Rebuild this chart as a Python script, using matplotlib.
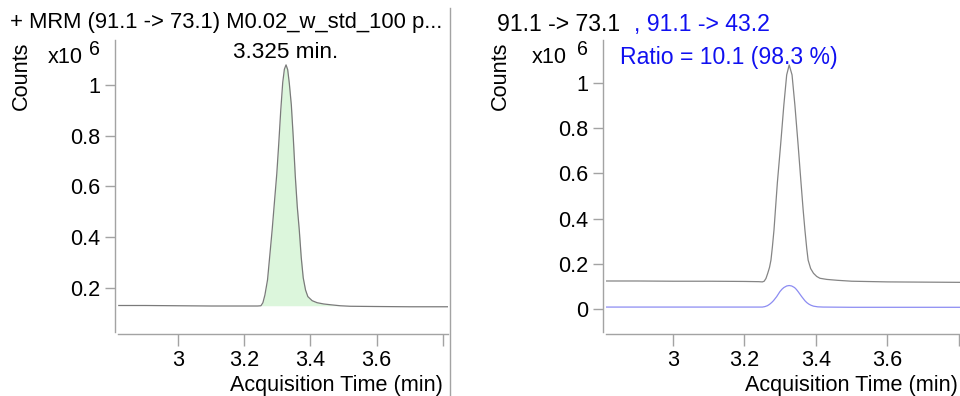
import matplotlib
matplotlib.use("Agg")
import matplotlib.pyplot as plt
from matplotlib.lines import Line2D

plt.rcParams['font.family'] = ['Liberation Sans', 'DejaVu Sans']

# ---------------- data, counts in x10^6 ----------------
left_time = [2.82, 2.90, 3.00, 3.10, 3.20, 3.24, 3.250, 3.256, 3.262, 3.270, 3.277,
             3.284, 3.291, 3.298, 3.304, 3.310, 3.316, 3.321, 3.326, 3.331, 3.336,
             3.342, 3.348, 3.354, 3.360, 3.366, 3.372, 3.378, 3.385, 3.392, 3.405,
             3.420, 3.440, 3.460, 3.490, 3.520, 3.600, 3.700, 3.820]
left_counts = [0.131, 0.131, 0.130, 0.129, 0.129, 0.129, 0.130, 0.142, 0.172, 0.232, 0.330,
               0.429, 0.540, 0.650, 0.770, 0.900, 1.010, 1.062, 1.079, 1.060, 1.005,
               0.921, 0.790, 0.640, 0.520, 0.429, 0.320, 0.240, 0.192, 0.166, 0.150,
               0.142, 0.137, 0.134, 0.130, 0.128, 0.127, 0.126, 0.126]
left_fill_start = 3.250
left_fill_end = 3.490

q_time = [2.81, 2.90, 3.00, 3.10, 3.20, 3.24, 3.250, 3.255, 3.260, 3.265, 3.270, 3.274,
          3.278, 3.2825, 3.287, 3.292, 3.301, 3.310, 3.318, 3.325, 3.333, 3.341, 3.350,
          3.358, 3.364, 3.369, 3.374, 3.378, 3.385, 3.393, 3.402, 3.411, 3.430, 3.460,
          3.500, 3.600, 3.700, 3.805]
q_counts = [0.125, 0.125, 0.124, 0.124, 0.123, 0.122, 0.121, 0.124, 0.136, 0.159, 0.185, 0.217,
            0.275, 0.350, 0.450, 0.560, 0.725, 0.900, 1.034, 1.078, 1.034, 0.900, 0.725,
            0.560, 0.440, 0.350, 0.270, 0.217, 0.180, 0.159, 0.145, 0.137, 0.132, 0.128,
            0.124, 0.121, 0.120, 0.119]

qual_time = [2.81, 3.00, 3.20, 3.250, 3.257, 3.264, 3.270, 3.276, 3.281, 3.290, 3.299,
             3.305, 3.310, 3.318, 3.325, 3.332, 3.340, 3.345, 3.350, 3.360, 3.369,
             3.374, 3.380, 3.386, 3.393, 3.405, 3.420, 3.500, 3.650, 3.805]
qual_counts = [0.010, 0.010, 0.010, 0.010, 0.012, 0.016, 0.022, 0.030, 0.038, 0.056, 0.078,
               0.089, 0.096, 0.103, 0.105, 0.103, 0.096, 0.088, 0.078, 0.056, 0.038,
               0.030, 0.023, 0.018, 0.014, 0.011, 0.010, 0.009, 0.009, 0.009]

x_ticks = [3.0, 3.2, 3.4, 3.6, 3.8]
x_ticklabels = ['3', '3.2', '3.4', '3.6', '']
left_yticks = [0.2, 0.4, 0.6, 0.8, 1.0]
left_yticklabels = ['0.2', '0.4', '0.6', '0.8', '1']
right_yticks = [0.0, 0.2, 0.4, 0.6, 0.8, 1.0]
right_yticklabels = ['0', '0.2', '0.4', '0.6', '0.8', '1']

left_title = '+ MRM (91.1 -> 73.1) M0.02_w_std_100 p...'
right_title_a = '91.1 -> 73.1'
right_title_b = ', 91.1 -> 43.2'
peak_label = '3.325 min.'
peak_rt = 3.325
ratio_label = 'Ratio = 10.1 (98.3 %)'

# ---------------- layout ----------------
W, H = 960, 396
fig = plt.figure(figsize=(W / 100, H / 100), dpi=100)


def rect(x0, x1, ytop, ybot):
    return [x0 / W, 1 - ybot / H, (x1 - x0) / W, (ybot - ytop) / H]


def fx(px):
    return px / W


def fy(py):
    return 1 - py / H


GREY = '#a3a3a3'
FS = 15.6
ax1 = fig.add_axes(rect(118, 448, 40, 332))
ax2 = fig.add_axes(rect(606, 960, 40, 332))

for ax in (ax1, ax2):
    for s in ('top', 'right'):
        ax.spines[s].set_visible(False)
    ax.spines['left'].set_position(('outward', 2.2))
    ax.spines['bottom'].set_position(('outward', 1.5))
    for s in ('left', 'bottom'):
        ax.spines[s].set_color(GREY)
        ax.spines[s].set_linewidth(1.0)
    ax.tick_params(axis='both', direction='out', color=GREY, width=1.0,
                   labelsize=FS, labelcolor='black')
    ax.tick_params(axis='y', length=7, pad=3.5)
    ax.tick_params(axis='x', length=8.5, pad=3.0)
    ax.set_xticks(x_ticks)
    ax.set_xticklabels(x_ticklabels)
    ax.patch.set_alpha(0)

# left panel
ax1.set_xlim(2.8176, 3.816)
ax1.set_ylim(0.0266, 1.177)
ax1.set_yticks(left_yticks)
ax1.set_yticklabels(left_yticklabels)
base_y0 = left_counts[left_time.index(left_fill_start)]
base_y1 = left_counts[left_time.index(left_fill_end)]
fill_t = [t for t in left_time if left_fill_start <= t <= left_fill_end]
fill_c = [c for t, c in zip(left_time, left_counts) if left_fill_start <= t <= left_fill_end]
fill_b = [base_y0 + (base_y1 - base_y0) * (t - left_fill_start) / (left_fill_end - left_fill_start)
          for t in fill_t]
ax1.fill_between(fill_t, fill_b, fill_c, color='#dcf6dc', lw=0)
ax1.plot(left_time, left_counts, color='#7a7a7a', lw=0.9)
ax1.text(peak_rt, 1.106, peak_label, ha='center', va='baseline', fontsize=FS + 0.6)

# right panel
ax2.set_xlim(2.8126, 3.8028)
ax2.set_ylim(-0.100, 1.188)
ax2.set_yticks(right_yticks)
ax2.set_yticklabels(right_yticklabels)
ax2.plot(q_time, q_counts, color='#858585', lw=0.9)
ax2.plot(qual_time, qual_counts, color='#8c8cf2', lw=0.9)

# separator line
fig.add_artist(Line2D([fx(450), fx(450)], [0, fy(8)], transform=fig.transFigure,
                      color=GREY, lw=1.0))

# texts
fig.text(fx(10), fy(28), left_title, ha='left', va='baseline', fontsize=FS + 0.2)
fig.text(fx(497), fy(31), right_title_a, ha='left', va='baseline', fontsize=FS + 1.0)
fig.text(fx(634), fy(31), right_title_b, ha='left', va='baseline', fontsize=FS + 1.0,
         color='#1010f0')
fig.text(fx(620), fy(64), ratio_label, ha='left', va='baseline', fontsize=FS + 1.0,
         color='#1010f0')

for cx, x10x, sx in ((21, 48, 89), (500.5, 532, 577)):
    fig.text(fx(cx), fy(76), 'Counts', rotation=90, ha='center', va='center', fontsize=FS)
    fig.text(fx(x10x), fy(63), 'x10', ha='left', va='baseline', fontsize=FS)
    fig.text(fx(sx), fy(55), '6', ha='left', va='baseline', fontsize=FS - 1.5)

fig.text(fx(443), fy(385), 'Acquisition Time (min)', ha='right', va='center', fontsize=FS)
fig.text(fx(958), fy(385), 'Acquisition Time (min)', ha='right', va='center', fontsize=FS)

fig.savefig('out.png', dpi=100)
